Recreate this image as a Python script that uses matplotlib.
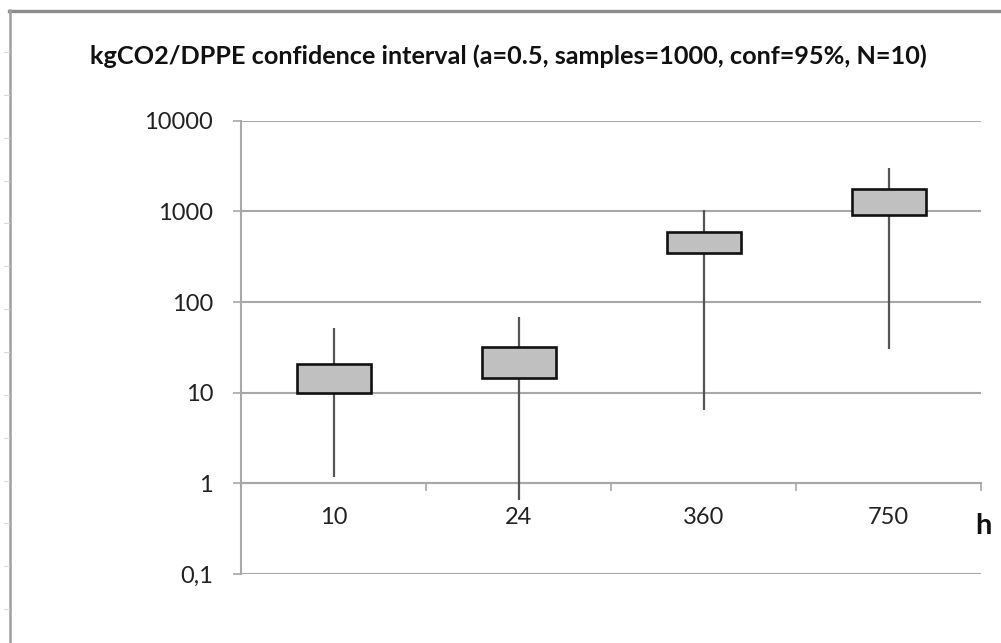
import matplotlib
matplotlib.use("Agg")
import matplotlib.pyplot as plt
from matplotlib.lines import Line2D
import numpy as np

# Data: operating hours and the kgCO2/DPPE confidence interval per case
categories = ["10", "24", "360", "750"]
box_low = [10.0, 14.6, 343.0, 908.0]
box_high = [20.7, 31.8, 590.0, 1743.0]
whisker_low = [1.18, 0.65, 6.4, 30.5]
whisker_high = [52.0, 68.7, 1030.0, 3020.0]
y_ticks = [0.1, 1, 10, 100, 1000, 10000]
y_tick_labels = ["0,1", "1", "10", "100", "1000", "10000"]

W, H = 1001, 643
fig = plt.figure(figsize=(W / 100, H / 100), dpi=100)
fig.patch.set_facecolor("white")

grid_col = "#a8a8a8"
font = "Lato"

ax = fig.add_axes([241 / W, (H - 574) / H, 740 / W, (574 - 120.7) / H])
ax.set_yscale("log")
ax.set_ylim(0.1, 10000)
ax.set_xlim(-0.5, 3.5)

x = np.arange(len(categories))

# whiskers behind the boxes
ax.vlines(x, whisker_low, whisker_high, colors="#555555", linewidth=1.6, zorder=3)
heights = [h - l for l, h in zip(box_low, box_high)]
ax.bar(x, heights, bottom=box_low, width=0.4, facecolor="#c0c0c0",
       edgecolor="#111111", linewidth=1.9, zorder=4)

# horizontal gridlines at every decade
ax.set_yticks(y_ticks)
ax.set_yticklabels(y_tick_labels, fontsize=17, family=font, color="#222222")
ax.yaxis.set_minor_locator(matplotlib.ticker.NullLocator())
ax.grid(axis="y", color=grid_col, linewidth=1.5, zorder=0)
ax.tick_params(axis="y", which="major", length=6, width=1.2, color=grid_col,
               direction="out", pad=14)

# category axis crossing at y = 1
ax.spines["bottom"].set_position(("data", 1))
ax.spines["bottom"].set_color(grid_col)
ax.spines["bottom"].set_linewidth(1.5)
ax.spines["left"].set_color(grid_col)
ax.spines["left"].set_linewidth(1.5)
ax.spines["top"].set_visible(False)
ax.spines["right"].set_visible(False)

ax.set_xticks(x)
ax.set_xticklabels(categories, fontsize=17, family=font, color="#222222")
ax.set_xticks([0.5, 1.5, 2.5, 3.5], minor=True)
ax.tick_params(axis="x", which="major", length=0, pad=17)
ax.tick_params(axis="x", which="minor", length=6, width=1.2, color=grid_col,
               direction="out")

# axis unit label
fig.text(975 / W, 1 - 534 / H, "h", fontsize=21, fontweight="bold",
         family=font, ha="left", va="baseline", color="#111111")

fig.text(508.5 / W, 1 - 56 / H,
         "kgCO2/DPPE confidence interval (a=0.5, samples=1000, conf=95%, N=10)",
         ha="center", va="center", fontsize=18.2, fontweight="bold",
         family=font, color="#111111")

# outer chart frame
fig.add_artist(Line2D([9 / W, 1.0], [1 - 10.5 / H, 1 - 10.5 / H],
                      transform=fig.transFigure, color="#8c8c8c", linewidth=2.4))
fig.add_artist(Line2D([9.5 / W, 9.5 / W], [0, 1 - 10 / H],
                      transform=fig.transFigure, color="#a0a0a0", linewidth=1.8))
for yp in np.arange(52, 615, 42.85):
    fig.add_artist(Line2D([4 / W, 9 / W], [1 - yp / H, 1 - yp / H],
                          transform=fig.transFigure, color="#dadada",
                          linewidth=0.8))

fig.savefig("out.png", dpi=100, facecolor="white")
